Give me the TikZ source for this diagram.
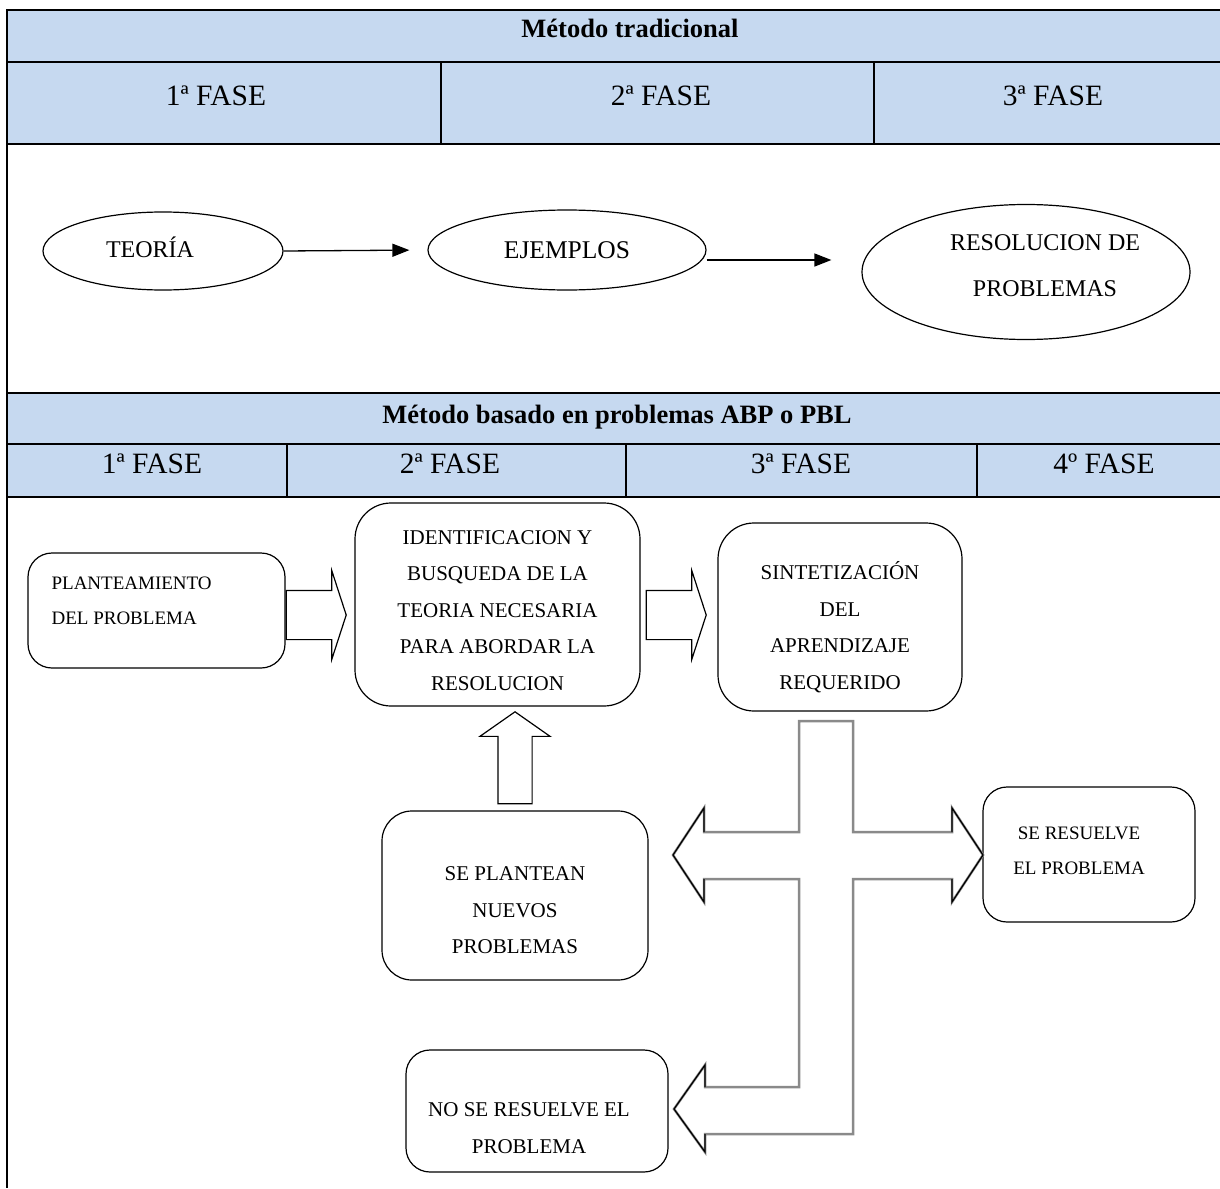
\documentclass[tikz,border=0pt]{standalone}
\usepackage{fontspec}
\setmainfont{Liberation Serif}
\usetikzlibrary{shapes.geometric,shapes.arrows,arrows.meta,positioning,calc}
\definecolor{headblue}{RGB}{198,217,240}
\definecolor{crossgray}{RGB}{138,138,138}

\begin{document}
\begin{tikzpicture}[x=1pt,y=-1pt,
   title/.style={font=\fontsize{26.5}{30}\selectfont\bfseries,anchor=base},
   fase/.style={font=\fontsize{29.5}{32}\selectfont,anchor=base},
   oval/.style={ellipse,draw,line width=1.2pt,inner sep=0pt},
   ovaltext/.style={align=center,inner sep=0pt,font=\fontsize{24}{46}\selectfont},
   box/.style={draw,line width=1.2pt,rounded corners=24pt,inner sep=0pt},
   boxtext/.style={align=center,inner sep=0pt,font=\fontsize{21}{36.5}\selectfont},
   hollow/.style={single arrow,draw,line width=1.2pt,inner xsep=0pt,inner ysep=24pt,
                  single arrow head extend=20pt,single arrow tip angle=144,
                  minimum height=60pt},
   thinarrow/.style={-{Triangle[length=17pt,width=13pt]},line width=1.3pt}]

   \useasboundingbox (0,0) rectangle (1220,1188);

   % table
   \fill[headblue] (7,10) rectangle (1220,144);
   \fill[headblue] (7,393) rectangle (1220,497);
   \draw[line width=2pt] (1220,10) -- (7,10) -- (7,1188);
   \foreach \y in {62,144,393,444,497}
      \draw[line width=2pt] (7,\y) -- (1220,\y);
   \foreach \x in {441,874}
      \draw[line width=2pt] (\x,62) -- (\x,144);
   \foreach \x in {287,626,977}
      \draw[line width=2pt] (\x,444) -- (\x,497);

   \node[title] (trad) at (630,38) {Método tradicional};
   \node[fase] (tf1) at (216,106) {1ª FASE};
   \node[fase] (tf2) at (661,106) {2ª FASE};
   \node[fase] (tf3) at (1053,106) {3ª FASE};

   \node[title] (abp) at (617,423) {Método basado en problemas ABP o PBL};
   \node[fase] (pf1) at (152,473) {1ª FASE};
   \node[fase] (pf2) at (450,473) {2ª FASE};
   \node[fase] (pf3) at (801,473) {3ª FASE};
   \node[fase] (pf4) at (1104,473) {4º FASE};

   % traditional method
   \node[oval,minimum width=240pt,minimum height=78pt] (teoria) at (163,251) {};
   \node[oval,minimum width=278pt,minimum height=80pt] (ejemplos) at (567,250) {};
   \node[oval,minimum width=328pt,minimum height=135pt] (resol) at (1026,272) {};
   \node[ovaltext] (teoriaT) at ([xshift=-13pt,yshift=4pt]teoria.center) {TEORÍA};
   \node[ovaltext,font=\fontsize{25.5}{46}\selectfont] (ejemplosT) at (ejemplos.center) {EJEMPLOS};
   \node[ovaltext] (resolT) at ([xshift=19pt,yshift=6pt]resol.center) {RESOLUCION DE\\PROBLEMAS};

   \draw[thinarrow,shorten >=18pt] (teoria.east) -- (ejemplos.west);
   \draw[thinarrow,shorten >=30pt] ([yshift=-10pt]ejemplos.east)
      -- ([yshift=-10pt]ejemplos.east -| resol.west);

   % problem based method
   \node[box,minimum width=257pt,minimum height=115pt] (plan) at (156.5,610.5) {};
   \node[box,minimum width=285pt,minimum height=203pt,rounded corners=36pt] (ident) at (497.5,604.5) {};
   \node[box,minimum width=244pt,minimum height=188pt,rounded corners=36pt] (sint) at (840,617) {};
   \node[box,minimum width=266pt,minimum height=169pt,rounded corners=30pt] (plantean) at (515,895.5) {};
   \node[box,minimum width=212pt,minimum height=135pt] (resuelve) at (1089,854.5) {};
   \node[box,minimum width=262pt,minimum height=122pt] (nores) at (537,1111) {};

   \node[boxtext,align=left,anchor=west,font=\fontsize{19}{35}\selectfont] (planT)
      at ([xshift=24pt,yshift=10pt]plan.west) {PLANTEAMIENTO\\DEL PROBLEMA};
   \node[boxtext] (identT) at ([yshift=-6pt]ident.center)
      {IDENTIFICACION Y\\BUSQUEDA DE LA\\TEORIA NECESARIA\\PARA ABORDAR LA\\RESOLUCION};
   \node[boxtext] (sintT) at ([yshift=-10pt]sint.center)
      {SINTETIZACIÓN\\DEL\\APRENDIZAJE\\REQUERIDO};
   \node[boxtext] (planteanT) at ([yshift=-15pt]plantean.center)
      {SE PLANTEAN\\NUEVOS\\PROBLEMAS};
   \node[boxtext,font=\fontsize{19}{35}\selectfont] (resuelveT)
      at ([xshift=-10pt,yshift=4pt]resuelve.center) {SE RESUELVE\\EL PROBLEMA};
   \node[boxtext] (noresT) at ([xshift=-8pt,yshift=-17pt]nores.center)
      {NO SE RESUELVE EL\\PROBLEMA};

   \node[hollow,anchor=tail] (arr1) at ([yshift=-4.5pt]plan.east) {};
   \node[hollow,anchor=tail] (arr2) at ([xshift=5pt]ident.east |- arr1.tail) {};
   \node[hollow,anchor=tail,rotate=90,inner ysep=16.5pt,single arrow head extend=18pt,
         single arrow tip angle=110,minimum height=92pt] (arrup)
      at ([yshift=6pt]plantean.north) {};

   % result cross
   \draw[crossgray,line width=2.5pt]
      (799,721) -- (853,721) -- (853,832) -- (952,832) -- (952,808) -- (983,855)
      -- (952,902) -- (952,879) -- (853,879) -- (853,1134) -- (705,1134) -- (705,1152)
      -- (674,1109) -- (705,1065) -- (705,1087) -- (799,1087) -- (799,879) -- (704,879)
      -- (704,902) -- (673,855) -- (704,808) -- (704,832) -- (799,832) -- cycle;
   \draw[line width=1.2pt] (704,832) -- (704,808) -- (673,855) -- (704,902) -- (704,879)
      (952,832) -- (952,808) -- (983,855) -- (952,902) -- (952,879)
      (705,1087) -- (705,1065) -- (674,1109) -- (705,1152) -- (705,1134);
\end{tikzpicture}
\end{document}
